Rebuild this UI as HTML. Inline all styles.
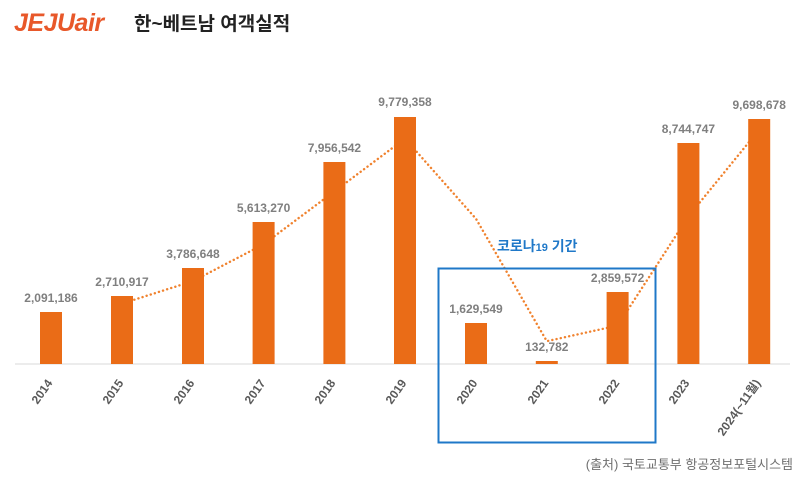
<!DOCTYPE html>
<html><head><meta charset="utf-8"><style>
html,body{margin:0;padding:0;background:#fff;}
svg{display:block;font-family:"Liberation Sans","Noto Sans CJK KR",sans-serif;}
</style></head><body>
<svg width="800" height="482" viewBox="0 0 800 482" xmlns="http://www.w3.org/2000/svg">
<text x="14" y="31" font-size="25" font-weight="bold" font-style="italic" fill="#e8582a" letter-spacing="-0.5">JEJUair</text>
<text x="134" y="30" font-size="19" font-weight="bold" fill="#222">한~베트남 여객실적</text>
<line x1="15" y1="364" x2="790" y2="364" stroke="#d9d9d9" stroke-width="1"/>
<polyline points="122,303.6 193,281.1 263.6,244.3 334.4,191.4 405,138.6 476,218.8 546.8,341.2 617.6,325.6 688.4,216.4 759.2,129.6" fill="none" stroke="#f0822e" stroke-width="2.4" stroke-dasharray="0.1 4.2" stroke-linecap="round"/>
<g fill="#ea6c17">
<rect x="40" y="312" width="22" height="52"/>
<rect x="111" y="296" width="22" height="68"/>
<rect x="182" y="268" width="22" height="96"/>
<rect x="252.6" y="222" width="22" height="142"/>
<rect x="323.4" y="162" width="22" height="202"/>
<rect x="394" y="117" width="22" height="247"/>
<rect x="465" y="323" width="22" height="41"/>
<rect x="535.8" y="361" width="22" height="3"/>
<rect x="606.6" y="292" width="22" height="72"/>
<rect x="677.4" y="143" width="22" height="221"/>
<rect x="748.2" y="119" width="22" height="245"/>
</g>
<g font-size="12" font-weight="bold" fill="#7f7f7f" text-anchor="middle">
<text x="51" y="302">2,091,186</text>
<text x="122" y="286">2,710,917</text>
<text x="193" y="258">3,786,648</text>
<text x="263.6" y="212">5,613,270</text>
<text x="334.4" y="152">7,956,542</text>
<text x="405" y="106">9,779,358</text>
<text x="476" y="313">1,629,549</text>
<text x="546.8" y="351">132,782</text>
<text x="617.6" y="282">2,859,572</text>
<text x="688.4" y="133">8,744,747</text>
<text x="759.2" y="109">9,698,678</text>
</g>
<g font-size="12" font-weight="bold" fill="#595959" text-anchor="end">
<text transform="translate(53,383) rotate(-55)">2014</text>
<text transform="translate(124,383) rotate(-55)">2015</text>
<text transform="translate(195,383) rotate(-55)">2016</text>
<text transform="translate(266,383) rotate(-55)">2017</text>
<text transform="translate(336,383) rotate(-55)">2018</text>
<text transform="translate(407,383) rotate(-55)">2019</text>
<text transform="translate(478,383) rotate(-55)">2020</text>
<text transform="translate(549,383) rotate(-55)">2021</text>
<text transform="translate(620,383) rotate(-55)">2022</text>
<text transform="translate(690,383) rotate(-55)">2023</text>
<text transform="translate(761,383) rotate(-55)">2024(~11월)</text>
</g>
<rect x="438.5" y="268.5" width="217" height="174" fill="none" stroke="#1f78c8" stroke-width="2"/>
<text x="497" y="251" font-size="14" font-weight="bold" fill="#1f78c8">코로나<tspan font-size="11">19</tspan> 기간</text>
<text x="793" y="469" font-size="13" fill="#6f6f6f" text-anchor="end">(출처) 국토교통부 항공정보포털시스템</text>
</svg>
</body></html>
